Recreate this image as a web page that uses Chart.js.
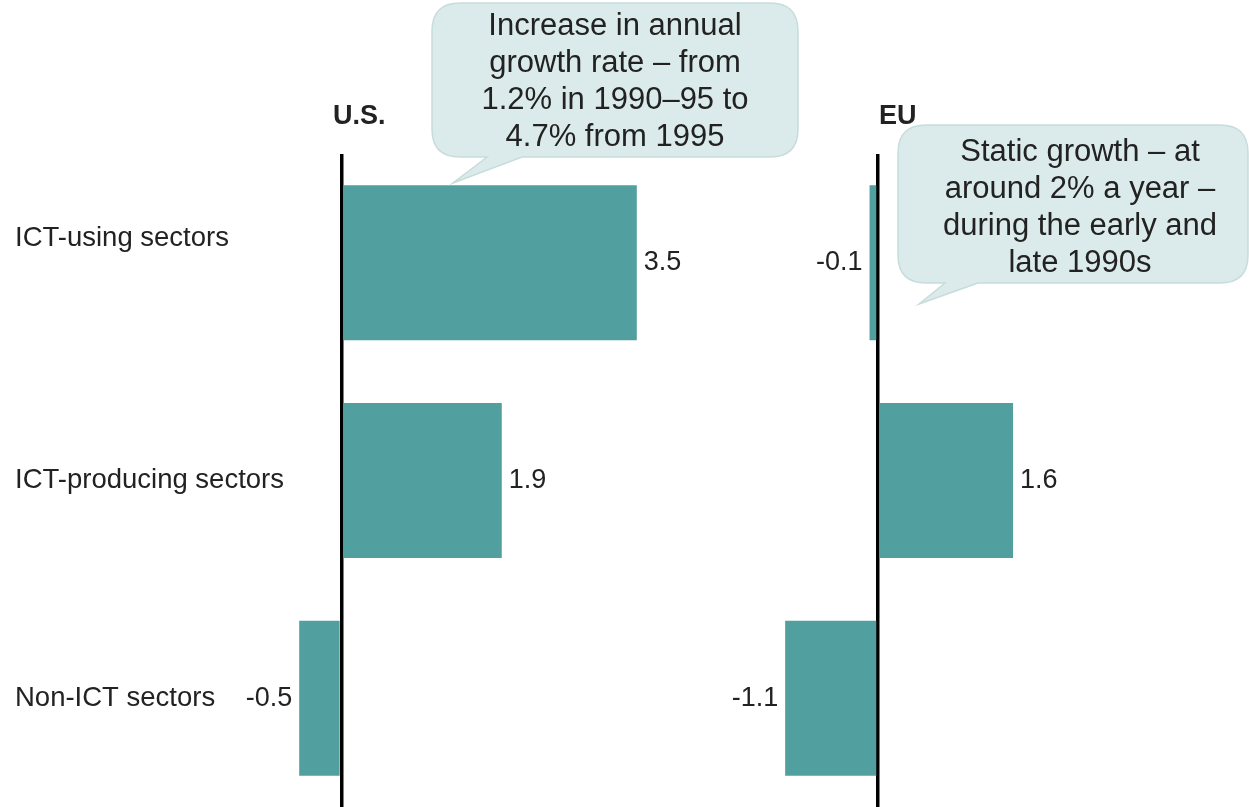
<!DOCTYPE html>
<html><head><meta charset="utf-8">
<script src="https://cdn.jsdelivr.net/npm/chart.js@4.4.1/dist/chart.umd.min.js"></script>
<style>
html,body{margin:0;padding:0;background:#fff;}
#wrap{position:relative;width:1249px;height:807px;overflow:hidden;background:#fff;}
canvas{position:absolute;left:0;top:0;}
</style></head><body>
<div id="wrap"><canvas id="us" width="1249" height="807"></canvas><canvas id="eu" width="1249" height="807"></canvas></div>
<script>
const categories = ['ICT-using sectors', 'ICT-producing sectors', 'Non-ICT sectors'];
const usValues = [3.5, 1.9, -0.5];
const euValues = [-0.1, 1.6, -1.1];
const panelTitles = ['U.S.', 'EU'];
const usNote = ['Increase in annual', 'growth rate – from', '1.2% in 1990–95 to', '4.7% from 1995'];
const euNote = ['Static growth – at', 'around 2% a year –', 'during the early and', 'late 1990s'];

const FONT = '"Liberation Sans", Arial, Helvetica, sans-serif';
const BAR = '#519f9f';
const TXT = '#222222';
const PX_PER_UNIT = 84.4;

const decor = {
  id: 'decor',
  afterDatasetsDraw(chart, args, opts) {
    const ctx = chart.ctx;
    const meta = chart.getDatasetMeta(0);
    const vals = chart.data.datasets[0].data;
    ctx.save();
    ctx.font = '27px ' + FONT;
    ctx.fillStyle = TXT;
    ctx.textBaseline = 'middle';
    meta.data.forEach((bar, i) => {
      const v = vals[i];
      if (v >= 0) { ctx.textAlign = 'left'; ctx.fillText(v.toFixed(1), bar.x + 7, bar.y); }
      else { ctx.textAlign = 'right'; ctx.fillText(v.toFixed(1), bar.x - 7, bar.y); }
    });
    ctx.restore();
  },
  afterDraw(chart, args, opts) {
    const ctx = chart.ctx;
    const b = opts.bubble;
    ctx.save();
    ctx.font = 'bold 27px ' + FONT;
    ctx.fillStyle = TXT;
    ctx.textAlign = 'left';
    ctx.textBaseline = 'middle';
    ctx.fillText(opts.title, opts.titleX, opts.titleY);
    const r = b.r, L = b.left, T = b.top, R = b.right, B = b.bottom;
    ctx.beginPath();
    ctx.moveTo(L + r, T);
    ctx.lineTo(R - r, T);
    ctx.quadraticCurveTo(R, T, R, T + r);
    ctx.lineTo(R, B - r);
    ctx.quadraticCurveTo(R, B, R - r, B);
    ctx.lineTo(b.tail[2][0], B);
    ctx.lineTo(b.tail[1][0], b.tail[1][1]);
    ctx.lineTo(b.tail[0][0], B);
    ctx.lineTo(L + r, B);
    ctx.quadraticCurveTo(L, B, L, B - r);
    ctx.lineTo(L, T + r);
    ctx.quadraticCurveTo(L, T, L + r, T);
    ctx.closePath();
    ctx.fillStyle = '#dbeaea';
    ctx.fill();
    ctx.strokeStyle = '#c8dcdc';
    ctx.lineWidth = 1.5;
    ctx.stroke();
    ctx.font = '31px ' + FONT;
    ctx.fillStyle = TXT;
    ctx.textAlign = 'center';
    b.lines.forEach((t, i) => ctx.fillText(t, b.cx, b.y0 + i * b.lh));
    ctx.restore();
  }
};

function xScale(min, max) {
  return {
    min: min, max: max,
    ticks: { display: false, stepSize: 1 },
    border: { display: false },
    grid: {
      drawTicks: false,
      lineWidth: 3.5,
      color: (c) => (c.tick && c.tick.value === 0) ? '#000000' : 'rgba(0,0,0,0)'
    },
    afterBuildTicks(s) {
      if (!s.ticks.some(t => t.value === 0)) { s.ticks.push({ value: 0 }); s.ticks.sort((a, b) => a.value - b.value); }
    },
    z: 1
  };
}

const common = {
  responsive: false,
  animation: false,
  devicePixelRatio: 1,
  indexAxis: 'y',
  events: [],
  plugins: { legend: { display: false }, tooltip: { enabled: false } }
};

// U.S. panel: zero line at x≈341.4, axis min -0.6
const usMin = -0.6, usMax = 4;
const usLeft = 341.4 + usMin * PX_PER_UNIT;
const usRight = usLeft + (usMax - usMin) * PX_PER_UNIT;

new Chart(document.getElementById('us'), {
  type: 'bar',
  data: {
    labels: categories,
    datasets: [{ data: usValues, backgroundColor: BAR, borderWidth: 0, categoryPercentage: 1, barPercentage: 0.712 }]
  },
  options: Object.assign({}, common, {
    layout: { padding: { left: 15, right: 1249 - usRight, top: 154, bottom: 0 } },
    scales: {
      x: xScale(usMin, usMax),
      y: {
        position: 'left',
        grid: { display: false },
        border: { display: false },
        ticks: {
          crossAlign: 'far', padding: 0, color: TXT,
          font: { family: FONT, size: 27.5, lineHeight: 1.8 },
          callback: (v, i) => i === 0 ? [categories[i], ''] : categories[i]
        },
        afterFit(s) { s.width = usLeft - 15; s.paddingTop = 0; s.paddingBottom = 0; }
      }
    },
    plugins: Object.assign({}, common.plugins, {
      decor: {
        title: panelTitles[0], titleX: 333, titleY: 117,
        bubble: { left: 432, top: 3, right: 798, bottom: 157, r: 28,
          tail: [[487, 157], [453, 183], [522, 157]],
          lines: usNote, cx: 615, y0: 26, lh: 37 }
      }
    })
  }),
  plugins: [decor]
});

// EU panel: zero line at x≈878
const euMin = -2, euMax = 3;
const euLeft = 878 + euMin * PX_PER_UNIT;
const euRight = euLeft + (euMax - euMin) * PX_PER_UNIT;

new Chart(document.getElementById('eu'), {
  type: 'bar',
  data: {
    labels: categories,
    datasets: [{ data: euValues, backgroundColor: BAR, borderWidth: 0, categoryPercentage: 1, barPercentage: 0.712 }]
  },
  options: Object.assign({}, common, {
    layout: { padding: { left: euLeft, right: 1249 - euRight, top: 154, bottom: 0 } },
    scales: {
      x: xScale(euMin, euMax),
      y: { display: false }
    },
    plugins: Object.assign({}, common.plugins, {
      decor: {
        title: panelTitles[1], titleX: 879, titleY: 117,
        bubble: { left: 898, top: 125, right: 1248, bottom: 283, r: 28,
          tail: [[945, 283], [919, 304], [978, 283]],
          lines: euNote, cx: 1080, y0: 152, lh: 37 }
      }
    })
  }),
  plugins: [decor]
});
</script>
</body></html>
